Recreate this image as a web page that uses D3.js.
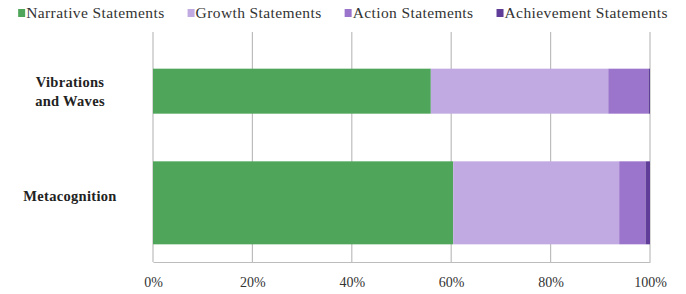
<!DOCTYPE html>
<html>
<head>
<meta charset="utf-8">
<script src="https://cdn.jsdelivr.net/npm/d3@7"></script>
<style>
  html, body { margin: 0; padding: 0; background: #fff; }
  svg { display: block; font-family: "Liberation Serif", "Times New Roman", serif; }
</style>
</head>
<body>
<div id="chart"></div>
<script>
const categories = ["Vibrations and Waves", "Metacognition"];
const seriesNames = ["Narrative Statements", "Growth Statements", "Action Statements", "Achievement Statements"];
const narrative = [55.9, 60.4];
const growth = [35.7, 33.4];
const action = [8.1, 5.3];
const achievement = [0.3, 0.9];
const tickValues = [0, 20, 40, 60, 80, 100];

const width = 686, height = 294;
const margin = { top: 32, right: 36, bottom: 32, left: 153 };
const colors = ["#4fa65b", "#c1aae1", "#9b74cc", "#5f3d99"];
// bars are not the same thickness in the original
const barThickness = [45, 83];

const rows = categories.map((c, i) => ({
  category: c,
  "Narrative Statements": narrative[i],
  "Growth Statements": growth[i],
  "Action Statements": action[i],
  "Achievement Statements": achievement[i]
}));

const svg = d3.select("#chart").append("svg")
  .attr("width", width)
  .attr("height", height);

const x = d3.scaleLinear()
  .domain([0, 100])
  .range([margin.left, width - margin.right]);

const y = d3.scalePoint()
  .domain(categories)
  .range([margin.top, height - margin.bottom])
  .padding(0.53);

const z = d3.scaleOrdinal().domain(seriesNames).range(colors);

// grid lines
svg.append("g")
  .selectAll("line")
  .data(tickValues)
  .join("line")
    .attr("x1", d => x(d))
    .attr("x2", d => x(d))
    .attr("y1", margin.top)
    .attr("y2", height - margin.bottom)
    .attr("stroke", "#bdbdbd")
    .attr("stroke-width", 1.2);

// stacked bars
const series = d3.stack().keys(seriesNames)(rows);
svg.append("g")
  .selectAll("g")
  .data(series)
  .join("g")
    .attr("fill", d => z(d.key))
  .selectAll("rect")
  .data(d => d)
  .join("rect")
    .attr("x", d => x(d[0]))
    .attr("width", d => Math.max(1.5, x(d[1]) - x(d[0])))
    .attr("y", (d, i) => y(d.data.category) - barThickness[i] / 2)
    .attr("height", (d, i) => barThickness[i]);

// bottom axis
const xAxis = d3.axisBottom(x)
  .tickValues(tickValues)
  .tickFormat(d => d + "%")
  .tickSize(0)
  .tickPadding(15);

svg.append("g")
  .attr("transform", `translate(0,${height - margin.bottom})`)
  .call(xAxis)
  .call(g => g.select(".domain").attr("stroke", "#bdbdbd").attr("stroke-width", 1.2))
  .call(g => g.selectAll("text")
    .style("font-family", "'Liberation Serif', 'Times New Roman', serif")
    .style("font-size", "14px")
    .attr("fill", "#333"));

// category labels, wrapped
const labels = svg.append("g")
  .selectAll("text")
  .data(categories)
  .join("text")
    .attr("x", 70)
    .attr("text-anchor", "middle")
    .style("font-weight", "bold")
    .style("font-size", "14.5px")
    .style("letter-spacing", "0.3px")
    .attr("fill", "#222");

labels.each(function(d) {
  const t = d3.select(this);
  const words = d.split(" ");
  const lines = [];
  let line = [];
  const probe = t.append("tspan");
  words.forEach(w => {
    line.push(w);
    probe.text(line.join(" "));
    if (probe.node().getComputedTextLength() > 90 && line.length > 1) {
      line.pop();
      lines.push(line.join(" "));
      line = [w];
    }
  });
  lines.push(line.join(" "));
  probe.remove();
  const lh = 19;
  const yc = y(d) - (lines.length === 1 ? 7 : 0);
  lines.forEach((l, i) => {
    t.append("tspan")
      .attr("x", 70)
      .attr("y", yc + (i - (lines.length - 1) / 2) * lh)
      .attr("dy", "0.35em")
      .text(l);
  });
});

// legend
const legend = svg.append("g");
const items = legend.selectAll("g")
  .data(seriesNames)
  .join("g");

items.append("rect")
  .attr("width", 7)
  .attr("height", 8)
  .attr("y", 9)
  .attr("fill", d => z(d));

items.append("text")
  .attr("x", 8)
  .attr("y", 13)
  .attr("dy", "0.35em")
  .style("font-size", "15.5px")
  .style("letter-spacing", "0.4px")
  .attr("fill", "#333")
  .text(d => d);

let lx = 0;
items.each(function() {
  const g = d3.select(this);
  g.attr("transform", `translate(${lx},0)`);
  lx += 8 + g.select("text").node().getComputedTextLength() + 23;
});
const legendWidth = lx - 23;
legend.attr("transform", `translate(${(width - legendWidth) / 2},0)`);
</script>
</body>
</html>
